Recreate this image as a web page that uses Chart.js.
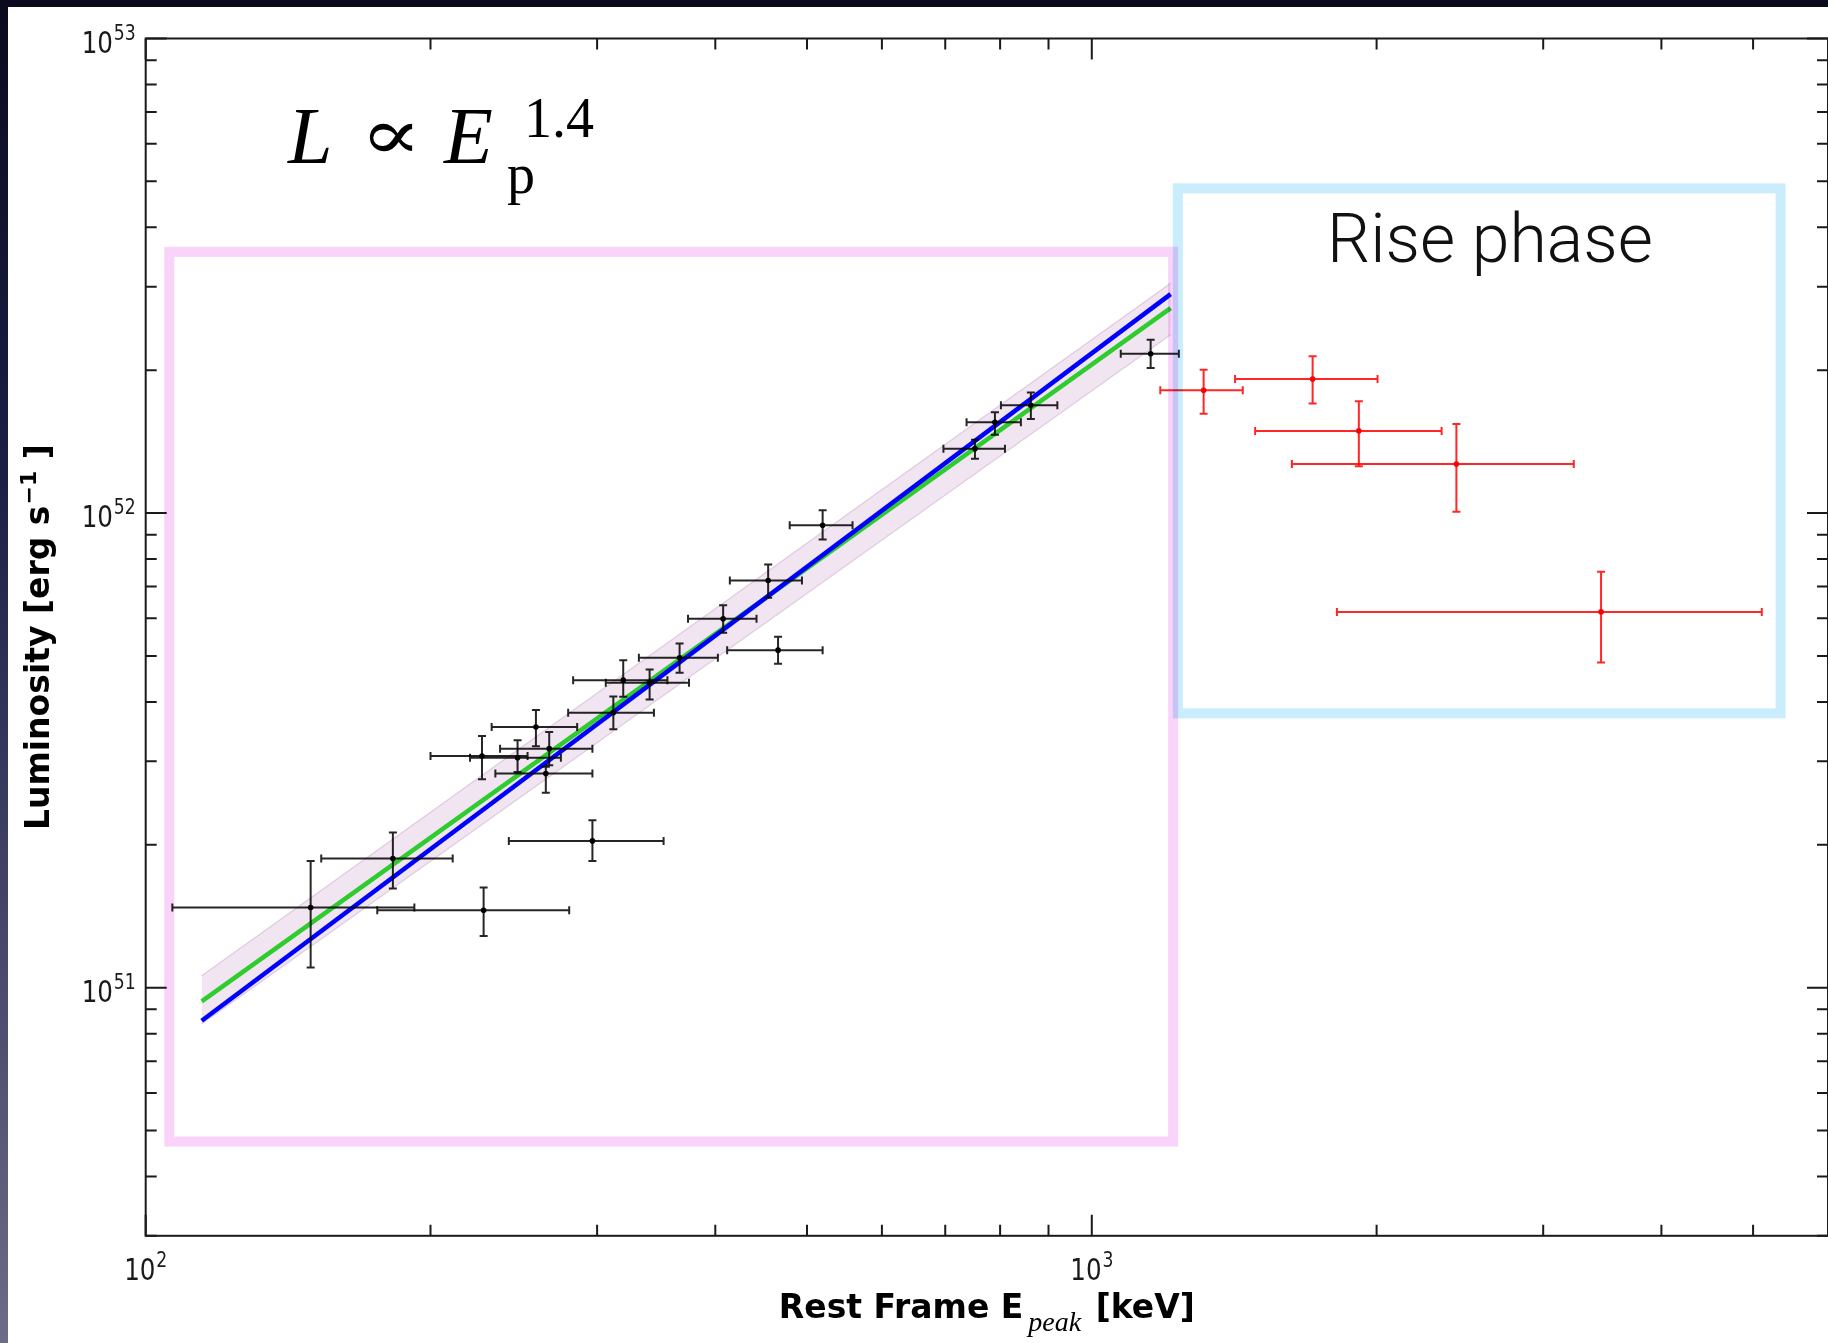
<!DOCTYPE html>
<html>
<head>
<meta charset="utf-8">
<title>L - Epeak</title>
<script src="https://cdn.jsdelivr.net/npm/chart.js@4.4.0/dist/chart.umd.min.js"></script>
<style>
  html, body { margin: 0; padding: 0; background: #fff; overflow: hidden; }
  #wrap { position: relative; width: 1828px; height: 1343px; overflow: hidden; }
  #chart { position: absolute; left: 0; top: 0; }
  #frameTop { position: absolute; left: 0; top: 0; width: 1828px; height: 7px; background: #0a0b1d; }
  #frameLeft { position: absolute; left: 0; top: 0; width: 8px; height: 1343px;
    background: linear-gradient(#0a0b1d, #1c1e46 35%, #46476a 70%, #6c6c86); }
</style>
</head>
<body>
<div id="wrap">
  <canvas id="chart" width="1832" height="1343"></canvas>
  <div id="frameTop"></div>
  <div id="frameLeft"></div>
</div>
<script>
// luminosities are in units of 1e51 erg/s
const LUM_UNIT = 1e51;

// black points (decay phase)
const ePeak   = [149.4, 182.5, 227.6, 296.6, 226.7, 247.2, 258.5, 267.0, 264.8, 312.1, 319.7, 340.9, 366.7, 407.7, 454.9, 466.0, 519.4, 752.5, 790.0, 862.2, 1154];
const ePeakLo = [106.7, 153.3, 175.7, 242.0, 200.0, 220.2, 232.1, 236.9, 234.2, 279.6, 283.0, 306.4, 332.1, 374.3, 414.4, 411.7, 479.4, 696.9, 737.3, 801.6, 1073];
const ePeakHi = [192.3, 211.1, 280.3, 352.7, 253.3, 274.7, 285.8, 296.6, 296.6, 344.5, 356.0, 375.2, 402.5, 442.2, 493.9, 519.4, 558.6, 809.5, 841.5, 919.6, 1236];
const lum     = [1.475, 1.871, 1.456, 2.038, 3.076, 3.051, 3.541, 3.189, 2.825, 3.797, 4.446, 4.391, 4.956, 5.990, 7.211, 5.142, 9.426, 13.67, 15.53, 16.87, 21.67];
const lumLo   = [1.103, 1.618, 1.285, 1.849, 2.748, 2.847, 3.225, 2.941, 2.574, 3.502, 4.102, 4.049, 4.610, 5.596, 6.630, 4.814, 8.794, 13.01, 14.63, 15.79, 20.22];
const lumHi   = [1.849, 2.122, 1.626, 2.253, 3.391, 3.321, 3.845, 3.457, 2.922, 4.108, 4.899, 4.684, 5.312, 6.396, 7.793, 5.489, 10.14, 14.28, 16.31, 17.96, 23.19];

// red points (rise phase)
const riseEPeak   = [1312.8, 1711.6, 1915.4, 2428.7, 3453.7];
const riseEPeakLo = [1181.4, 1417.2, 1488.2, 1627.5, 1815.9];
const riseEPeakHi = [1444.0, 2004.6, 2342.9, 3232.0, 5107.2];
const riseLum     = [18.14, 19.17, 14.90, 12.69, 6.191];
const riseLumLo   = [16.20, 17.01, 12.55, 10.07, 4.845];
const riseLumHi   = [20.05, 21.39, 17.20, 15.41, 7.525];

// fits (straight in log-log, so two ends each)
const fitE      = [114.6, 1211.5];
const fitGreen  = [0.9353, 27.04];
const fitBlue   = [0.8514, 28.93];
const bandUpper = [1.059, 30.51];
const bandLower = [0.8379, 23.76];

// highlight boxes: [eMin, eMax, lumMin, lumMax]
const decayBox = [105.9, 1219, 0.4740, 35.52];
const riseBox  = [1233, 5346, 3.784, 48.33];

// text anchors: [E, lum]
const formulaAt = [141.4, 54.6];
const riseTextAt = [1773, 33.84];

// axis ticks
const xMajorTicks = [100, 1000];
const xTickExp = ["2", "3"];
const yMajorTicks = [1e51, 1e52, 1e53];
const yTickExp = ["51", "52", "53"];
const mantissas = [2, 3, 4, 5, 6, 7, 8, 9];

function pts(xv, yv) {
  return xv.map((v, i) => ({ x: v, y: yv[i] * LUM_UNIT }));
}

function drawRuns(ctx, runs, x, y, align) {
  let total = 0;
  runs.forEach((r) => {
    ctx.font = r.font;
    r.w = ctx.measureText(r.text).width;
    total += r.w + (r.gap || 0);
  });
  let cx = x;
  if (align === "center") cx = x - total / 2;
  if (align === "right") cx = x - total;
  runs.forEach((r) => {
    ctx.font = r.font;
    ctx.fillText(r.text, cx, y - (r.rise || 0));
    cx += r.w + (r.gap || 0);
  });
}

function drawPow(ctx, x, y, exp, align) {
  ctx.save();
  ctx.translate(x, y);
  ctx.scale(0.82, 1);
  drawRuns(ctx, [
    { text: "10", font: '30px "DejaVu Sans"', gap: 1 },
    { text: exp, font: '21px "DejaVu Sans"', rise: 13 },
  ], 0, 0, align);
  ctx.restore();
}

function drawErrorBars(ctx, xs, ys, e, eLo, eHi, l, lLo, lHi, color) {
  const cap = 4;
  ctx.save();
  ctx.strokeStyle = color;
  ctx.lineWidth = 2;
  for (let i = 0; i < e.length; i++) {
    const px = xs.getPixelForValue(e[i]);
    const py = ys.getPixelForValue(l[i] * LUM_UNIT);
    const x0 = xs.getPixelForValue(eLo[i]);
    const x1 = xs.getPixelForValue(eHi[i]);
    const y0 = ys.getPixelForValue(lLo[i] * LUM_UNIT);
    const y1 = ys.getPixelForValue(lHi[i] * LUM_UNIT);
    ctx.beginPath();
    ctx.moveTo(x0, py); ctx.lineTo(x1, py);
    ctx.moveTo(px, y0); ctx.lineTo(px, y1);
    ctx.moveTo(x0, py - cap); ctx.lineTo(x0, py + cap);
    ctx.moveTo(x1, py - cap); ctx.lineTo(x1, py + cap);
    ctx.moveTo(px - cap, y0); ctx.lineTo(px + cap, y0);
    ctx.moveTo(px - cap, y1); ctx.lineTo(px + cap, y1);
    ctx.stroke();
  }
  ctx.restore();
}

function strokeBox(ctx, xs, ys, b, color) {
  const x0 = xs.getPixelForValue(b[0]);
  const x1 = xs.getPixelForValue(b[1]);
  const y0 = ys.getPixelForValue(b[2] * LUM_UNIT);
  const y1 = ys.getPixelForValue(b[3] * LUM_UNIT);
  ctx.strokeStyle = color;
  ctx.strokeRect(x0, y1, x1 - x0, y0 - y1);
}

const decorPlugin = {
  id: "decor",
  afterDatasetsDraw(chart) {
    const ctx = chart.ctx;
    const xs = chart.scales.x;
    const ys = chart.scales.y;
    drawErrorBars(ctx, xs, ys, ePeak, ePeakLo, ePeakHi, lum, lumLo, lumHi, "rgba(0,0,0,0.85)");
    drawErrorBars(ctx, xs, ys, riseEPeak, riseEPeakLo, riseEPeakHi, riseLum, riseLumLo, riseLumHi, "rgba(255,0,0,0.85)");
  },
  afterDraw(chart) {
    const ctx = chart.ctx;
    const xs = chart.scales.x;
    const ys = chart.scales.y;
    const area = chart.chartArea;

    // highlight boxes
    ctx.save();
    ctx.globalCompositeOperation = "multiply";
    ctx.lineWidth = 10;
    strokeBox(ctx, xs, ys, decayBox, "#f9d3fa");
    strokeBox(ctx, xs, ys, riseBox, "#c9edfc");
    ctx.restore();

    // spines + inward ticks
    ctx.save();
    ctx.strokeStyle = "#1a1a1a";
    ctx.lineWidth = 2;
    ctx.strokeRect(area.left, area.top, area.right - area.left, area.bottom - area.top);
    ctx.beginPath();
    xMajorTicks.forEach((dec) => {
      const px = xs.getPixelForValue(dec);
      ctx.moveTo(px, area.bottom); ctx.lineTo(px, area.bottom - 21);
      ctx.moveTo(px, area.top); ctx.lineTo(px, area.top + 21);
      mantissas.forEach((m) => {
        const v = m * dec;
        if (v >= xs.max) return;
        const p = xs.getPixelForValue(v);
        ctx.moveTo(p, area.bottom); ctx.lineTo(p, area.bottom - 11);
        ctx.moveTo(p, area.top); ctx.lineTo(p, area.top + 11);
      });
    });
    [1e50, 1e51, 1e52].forEach((dec) => {
      mantissas.forEach((m) => {
        const v = m * dec;
        if (v <= ys.min || v >= ys.max) return;
        const p = ys.getPixelForValue(v);
        ctx.moveTo(area.left, p); ctx.lineTo(area.left + 11, p);
        ctx.moveTo(area.right, p); ctx.lineTo(area.right - 11, p);
      });
    });
    yMajorTicks.forEach((v) => {
      const p = ys.getPixelForValue(v);
      ctx.moveTo(area.left, p); ctx.lineTo(area.left + 21, p);
      ctx.moveTo(area.right, p); ctx.lineTo(area.right - 21, p);
    });
    ctx.stroke();
    ctx.restore();

    // tick labels
    ctx.save();
    ctx.fillStyle = "#1a1a1a";
    ctx.textBaseline = "alphabetic";
    xMajorTicks.forEach((v, i) => {
      drawPow(ctx, xs.getPixelForValue(v), area.bottom + 44, xTickExp[i], "center");
    });
    yMajorTicks.forEach((v, i) => {
      drawPow(ctx, area.left - 10, ys.getPixelForValue(v) + 14, yTickExp[i], "right");
    });

    // axis titles
    ctx.fillStyle = "#000";
    drawRuns(ctx, [
      { text: "Rest Frame E", font: 'bold 33px "DejaVu Sans"', gap: 5 },
      { text: "peak", font: 'italic 28px "Liberation Serif"', rise: -13, gap: 3 },
      { text: " [keV]", font: 'bold 33px "DejaVu Sans"' },
    ], (area.left + area.right) / 2, area.bottom + 82, "center");

    ctx.save();
    ctx.translate(49, (area.top + area.bottom) / 2);
    ctx.rotate(-Math.PI / 2);
    drawRuns(ctx, [
      { text: "Luminosity [erg s", font: 'bold 33px "DejaVu Sans"', gap: 1 },
      { text: "\u22121", font: 'bold 22px "DejaVu Sans"', rise: 13 },
      { text: " ]", font: 'bold 33px "DejaVu Sans"' },
    ], 0, 0, "center");
    ctx.restore();

    // formula  L ∝ E_p^1.4
    const fx = xs.getPixelForValue(formulaAt[0]);
    const fy = ys.getPixelForValue(formulaAt[1] * LUM_UNIT);
    ctx.fillStyle = "#000";
    ctx.font = 'italic 80px "Liberation Serif"';
    ctx.fillText("L", fx, fy);
    ctx.save();
    ctx.font = '60px "DejaVu Serif"';
    const pw = ctx.measureText("\u221d").width;
    ctx.translate(fx + 72, fy - 4);
    ctx.scale(62 / pw, 1.2);
    ctx.fillText("\u221d", 0, 0);
    ctx.restore();
    ctx.font = 'italic 80px "Liberation Serif"';
    ctx.fillText("E", fx + 156, fy);
    ctx.font = '56px "Liberation Serif"';
    ctx.fillText("p", fx + 219, fy + 30);
    ctx.fillText("1.4", fx + 236, fy - 26);

    const rx = xs.getPixelForValue(riseTextAt[0]);
    const ry = ys.getPixelForValue(riseTextAt[1] * LUM_UNIT);
    ctx.fillStyle = "#111";
    ctx.font = '300 68px Roboto, "Open Sans", sans-serif';
    ctx.fillText("Rise phase", rx, ry);
    ctx.restore();
  },
};

const ctx = document.getElementById("chart");

new Chart(ctx, {
  type: "scatter",
  data: {
    datasets: [
      {
        label: "decay",
        data: pts(ePeak, lum),
        pointRadius: 2.8,
        pointBackgroundColor: "#000",
        pointBorderWidth: 0,
        order: 0,
      },
      {
        label: "rise",
        data: pts(riseEPeak, riseLum),
        pointRadius: 2.8,
        pointBackgroundColor: "#ff0000",
        pointBorderWidth: 0,
        order: 0,
      },
      {
        label: "fit blue",
        data: pts(fitE, fitBlue),
        showLine: true,
        borderColor: "#0000ff",
        borderWidth: 4.5,
        pointRadius: 0,
        fill: false,
        order: 1,
      },
      {
        label: "fit green",
        data: pts(fitE, fitGreen),
        showLine: true,
        borderColor: "#2fcc2f",
        borderWidth: 4.5,
        pointRadius: 0,
        fill: false,
        order: 2,
      },
      {
        label: "band upper",
        data: pts(fitE, bandUpper),
        showLine: true,
        borderColor: "rgba(180,130,180,0.35)",
        borderWidth: 1.2,
        backgroundColor: "rgba(200,160,200,0.27)",
        pointRadius: 0,
        fill: "+1",
        order: 5,
      },
      {
        label: "band lower",
        data: pts(fitE, bandLower),
        showLine: true,
        borderColor: "rgba(180,130,180,0.35)",
        borderWidth: 1.2,
        pointRadius: 0,
        fill: false,
        order: 6,
      },
    ],
  },
  options: {
    responsive: false,
    animation: false,
    devicePixelRatio: 1,
    events: [],
    layout: { padding: { left: 145.7, top: 38.5, right: 1, bottom: 107.2 } },
    plugins: {
      legend: { display: false },
      tooltip: { enabled: false },
    },
    scales: {
      x: { type: "logarithmic", min: 100, max: 6000, display: false },
      y: { type: "logarithmic", min: 3e50, max: 1e53, display: false },
    },
  },
  plugins: [decorPlugin],
});
</script>
</body>
</html>
